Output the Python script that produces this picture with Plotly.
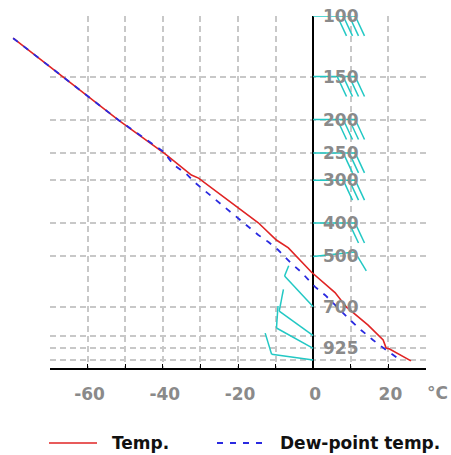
import math
import plotly.graph_objects as go

# ---------------- data ----------------
temp_p = [116, 149, 201, 252, 290, 296, 399, 448, 472, 555, 637, 701, 792, 875, 923, 927, 1006]
temp_c = [-79.8, -67.1, -51.7, -39.3, -32.4, -30.5, -14.6, -9.8, -6.6, -0.5, 5.8, 8.8, 14.6, 18.6, 19.4, 20.2, 26.0]

dew_p = [116, 149, 201, 248, 271, 288, 306, 433, 454, 479, 524, 555, 613, 648, 707, 765, 818, 875, 935, 989]
dew_c = [-79.8, -67.1, -51.7, -39.8, -37.1, -33.7, -31.3, -14.6, -11.9, -9.3, -5.8, -3.2, 0.5, 3.2, 6.6, 9.8, 12.7, 15.9, 19.4, 22.5]

x_tick_vals = [-60, -40, -20, 0, 20]
x_tick_text = ["-60", "-40", "-20", "0", "20"]

grid_levels = [100, 150, 200, 250, 300, 400, 500, 700, 850, 925, 1000]
label_levels = [100, 150, 200, 250, 300, 400, 500, 700, 925]

wind_p = [100, 150, 200, 250, 300, 400, 500, 700, 850, 925, 1000]
wind_dir = [90, 90, 90, 90, 90, 90, 84, 317, 306, 299, 278]
wind_kt = [40, 40, 40, 30, 30, 20, 10, 5, 10, 10, 10]

x_min, x_max = -70, 30
p_top, p_bottom = 100, 1055

# ---------------- layout geometry ----------------
W, H = 451, 455
ml, mr, mt, mb = 12, 25, 16, 87
plot_w = W - ml - mr
plot_h = H - mt - mb
axis_left_px = 50
xdom0 = (axis_left_px - ml) / plot_w
px_per_deg = (ml + plot_w - axis_left_px) / (x_max - x_min)
x2_min = x_max - plot_w / px_per_deg  # wider axis so the profile may run past -70
px_per_dec = plot_h / (math.log10(p_bottom) - math.log10(p_top))


def to_px(t, p):
    return (axis_left_px + (t - x_min) * px_per_deg,
            mt + (math.log10(p) - math.log10(p_top)) * px_per_dec)


def from_px(xp, yp):
    return (x_min + (xp - axis_left_px) / px_per_deg,
            10 ** (math.log10(p_top) + (yp - mt) / px_per_dec))


def paper(xp, yp):
    return (xp - ml) / plot_w, 1 - (yp - mt) / plot_h


# ---------------- wind barbs (pixel geometry -> data) ----------------
staff_len, full_len, half_len, spacing, ang = 42, 22, 11, 6, math.radians(65)
bx, by = [], []
for p, d, s in zip(wind_p, wind_dir, wind_kt):
    ox, oy = to_px(0, p)
    ux, uy = math.sin(math.radians(d)), -math.cos(math.radians(d))
    vx = math.cos(ang) * ux - math.sin(ang) * uy
    vy = math.sin(ang) * ux + math.cos(ang) * uy
    ex, ey = ox + staff_len * ux, oy + staff_len * uy
    for (a, b) in [(ox, oy), (ex, ey)]:
        t, pp = from_px(a, b)
        bx.append(t); by.append(pp)
    bx.append(None); by.append(None)
    n_full, n_half = int(s // 10), int((s % 10) >= 5)
    lens = [full_len] * n_full + [half_len] * n_half
    for i, L in enumerate(lens):
        sx, sy = ex - i * spacing * ux, ey - i * spacing * uy
        for (a, b) in [(sx, sy), (sx + L * vx, sy + L * vy)]:
            t, pp = from_px(a, b)
            bx.append(t); by.append(pp)
        bx.append(None); by.append(None)

fig = go.Figure()
fig.add_trace(go.Scatter(x=bx, y=by, mode="lines", xaxis="x", yaxis="y",
                         line=dict(color="#22c8c4", width=1.5),
                         showlegend=False, hoverinfo="skip"))
fig.add_trace(go.Scatter(x=temp_c, y=temp_p, mode="lines", name="Temp.",
                         xaxis="x2", yaxis="y2",
                         line=dict(color="#e02424", width=1.6), showlegend=False))
fig.add_trace(go.Scatter(x=dew_c, y=dew_p, mode="lines", name="Dew-point temp.",
                         xaxis="x2", yaxis="y2",
                         line=dict(color="#2a2ae0", width=1.8, dash="6px,7px"),
                         showlegend=False))

grid_col = "#c8c8c8"
tick_font = dict(family="DejaVu Sans", size=17, color="#8a8a8a", weight="bold")
yrange = [math.log10(p_bottom), math.log10(p_top)]

fig.update_layout(
    width=W, height=H, margin=dict(l=ml, r=mr, t=mt, b=mb),
    paper_bgcolor="white", plot_bgcolor="rgba(0,0,0,0)",
    xaxis=dict(domain=[xdom0, 1], range=[x_min, x_max], anchor="y",
               tickmode="array", tickvals=x_tick_vals, ticktext=x_tick_text,
               ticks="inside", ticklen=4, tickcolor="black",
               showline=True, linecolor="black", linewidth=2,
               showgrid=True, gridcolor=grid_col, griddash="6px,4px", gridwidth=1.5,
               zeroline=True, zerolinecolor="black", zerolinewidth=2,
               minor=dict(dtick=10, tick0=0, ticks="inside", ticklen=4, tickcolor="black",
                          showgrid=True, gridcolor=grid_col, griddash="6px,4px", gridwidth=1.5),
               tickfont=tick_font, ticklabelstandoff=10, ticklabelshift=2,
               fixedrange=True),
    yaxis=dict(type="log", range=yrange, anchor="x",
               tickvals=grid_levels, showticklabels=False, ticks="",
               showgrid=True, gridcolor=grid_col, griddash="6px,4px", gridwidth=1.5,
               showline=False, zeroline=False, fixedrange=True),
    xaxis2=dict(domain=[0, 1], range=[x2_min, x_max], anchor="y2", visible=False,
                showgrid=False, zeroline=False, fixedrange=True),
    yaxis2=dict(type="log", domain=[0, 1], range=yrange, anchor="x2", visible=False,
                showgrid=False, zeroline=False, fixedrange=True),
)

for p in label_levels:
    fig.add_annotation(x=0, y=math.log10(p), xref="x", yref="y", text=str(p),
                       showarrow=False, xshift=28, xanchor="center", yanchor="middle",
                       font=dict(family="DejaVu Sans", size=17, color="#8a8a8a", weight="bold"))

# unit label
ux_, uy_ = paper(438, 393)
fig.add_annotation(x=ux_, y=uy_, xref="paper", yref="paper", text="°C", showarrow=False,
                   xanchor="center", yanchor="middle", font=tick_font)

# legend (drawn)
leg_y = 443
for (x0, x1, col, dash, w, tx, label) in [
        (49, 97, "#e02424", "solid", 1.6, 110, "Temp."),
        (217, 262, "#2a2ae0", "6px,7px", 1.8, 278, "Dew-point temp.")]:
    a0, b0 = paper(x0, leg_y)
    a1, _ = paper(x1, leg_y)
    fig.add_shape(type="line", xref="paper", yref="paper", x0=a0, x1=a1, y0=b0, y1=b0,
                  line=dict(color=col, width=w, dash=dash))
    ta, tb = paper(tx, leg_y)
    fig.add_annotation(x=ta, y=tb, xref="paper", yref="paper", text=label, showarrow=False,
                       xanchor="left", yanchor="middle",
                       font=dict(family="DejaVu Sans", size=17, color="#111111", weight="bold"))

fig.write_html("out.html", config={"displayModeBar": False},
               post_script="document.body.style.margin='0px';")
